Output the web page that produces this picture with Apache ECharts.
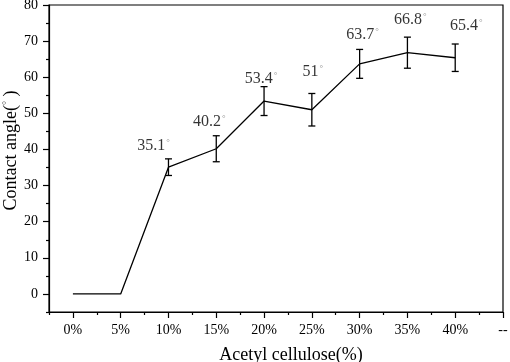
<!DOCTYPE html>
<html>
<head>
<meta charset="utf-8">
<script src="https://cdn.jsdelivr.net/npm/echarts@6/dist/echarts.min.js"></script>
<style>
    html, body { margin: 0; padding: 0; background: #ffffff; }
    #chart { width: 510px; height: 362px; }
</style>
</head>
<body>
<div id="chart"></div>
<script>
// 醋酸纤维素含量 (%)
const contents = [0, 5, 10, 15, 20, 25, 30, 35, 40]
// 接触角 (°)
const angles = [0, 0, 35.1, 40.2, 53.4, 51, 63.7, 66.8, 65.4]
// 误差
const errors = [0, 0, 2.3, 3.6, 4.0, 4.5, 4.0, 4.3, 3.8]
// 标注的点
const labelIdx = [2, 3, 4, 5, 6, 7, 8]
// 标注相对点的偏移 (像素)
const labelOffsets = [[-15, -21], [-7, -27], [-3, -22], [1, -38], [3, -29], [3, -33], [11, -32]]

const xMajor = [0, 5, 10, 15, 20, 25, 30, 35, 40, 45]
const xMinor = [-2.5, 2.5, 7.5, 12.5, 17.5, 22.5, 27.5, 32.5, 37.5, 42.5]
const yMajor = [0, 10, 20, 30, 40, 50, 60, 70, 80]
const yMinor = [-5, 5, 15, 25, 35, 45, 55, 65, 75]

const FONT = 'Liberation Serif'
const axisColor = '#000000'

const lineData = contents.map((c, i) => [c, angles[i]])
const errData = contents.map((c, i) => [c, angles[i] - errors[i], angles[i] + errors[i]])
    .filter((d, i) => errors[i] > 0)
const labelData = labelIdx.map((i, k) => ({
    value: [contents[i], angles[i]],
    label: { offset: labelOffsets[k] }
}))

const baseX = {
    type: 'value',
    min: -2.5,
    max: 45,
    interval: 2.5,
    position: 'bottom',
    splitLine: { show: false },
}
const baseY = {
    type: 'value',
    min: -5,
    max: 80,
    interval: 5,
    position: 'left',
    splitLine: { show: false },
}

const option = {
    backgroundColor: '#ffffff',
    animation: false,
    grid: {
        left: 49,
        right: 7,
        top: 5,
        bottom: 50,
        containLabel: false,
        outerBoundsMode: 'none',
        show: true,
        borderColor: axisColor,
        borderWidth: 1.2,
    },
    xAxis: [
        Object.assign({}, baseX, {
            name: 'Acetyl cellulose(%)',
            nameLocation: 'middle',
            nameGap: 34,
            nameMoveOverlap: false,
            nameTextStyle: { fontFamily: FONT, fontSize: 18, color: '#000', padding: [0, 0, 0, 30] },
            axisLine: { onZero: false, lineStyle: { color: axisColor, width: 1.2 } },
            axisTick: { customValues: xMajor, length: 6, lineStyle: { color: axisColor, width: 1.2 } },
            axisLabel: {
                customValues: xMajor,
                margin: 11,
                fontFamily: FONT,
                fontSize: 14,
                color: '#000',
                formatter: (v) => v === 45 ? '--' : v + '%',
            },
        }),
        Object.assign({}, baseX, {
            axisLine: { show: false, onZero: false },
            axisTick: { customValues: xMinor, length: 3, lineStyle: { color: axisColor, width: 1.2 } },
            axisLabel: { show: false },
        }),
    ],
    yAxis: [
        Object.assign({}, baseY, {
            name: 'Contact angle({d|°} )',
            nameLocation: 'middle',
            nameGap: 29,
            nameMoveOverlap: false,
            nameTextStyle: {
                fontFamily: FONT, fontSize: 18, color: '#000',
                padding: [0, 0, 0, 16],
                rich: { d: { fontFamily: FONT, fontSize: 10, color: '#555', verticalAlign: 'top', padding: [0, 0, 6, 0] } },
            },
            axisLine: { onZero: false, lineStyle: { color: axisColor, width: 1.2 } },
            axisTick: { customValues: yMajor, length: 6, lineStyle: { color: axisColor, width: 1.2 } },
            axisLabel: {
                customValues: yMajor,
                margin: 11,
                fontFamily: FONT,
                fontSize: 14,
                color: '#000',
            },
        }),
        Object.assign({}, baseY, {
            axisLine: { show: false, onZero: false },
            axisTick: { customValues: yMinor, length: 3, lineStyle: { color: axisColor, width: 1.2 } },
            axisLabel: { show: false },
        }),
    ],
    series: [
        {
            type: 'line',
            data: lineData,
            symbol: 'none',
            lineStyle: { color: '#000', width: 1.3 },
            z: 3,
        },
        {
            // 误差棒
            type: 'custom',
            data: errData,
            z: 4,
            renderItem: (params, api) => {
                const x = api.value(0)
                const lo = api.coord([x, api.value(1)])
                const hi = api.coord([x, api.value(2)])
                const cap = 3.5
                const style = { stroke: '#000', lineWidth: 1.3 }
                return {
                    type: 'group',
                    children: [
                        { type: 'line', shape: { x1: lo[0], y1: lo[1], x2: hi[0], y2: hi[1] }, style },
                        { type: 'line', shape: { x1: hi[0] - cap, y1: hi[1], x2: hi[0] + cap, y2: hi[1] }, style },
                        { type: 'line', shape: { x1: lo[0] - cap, y1: lo[1], x2: lo[0] + cap, y2: lo[1] }, style },
                    ]
                }
            },
        },
        {
            // 数值标注
            type: 'scatter',
            data: labelData,
            symbolSize: 0,
            z: 5,
            label: {
                show: true,
                position: 'inside',
                formatter: (p) => p.value[1] + '{d|°}',
                fontFamily: FONT,
                fontSize: 16,
                color: '#000',
                rich: {
                    d: { fontFamily: FONT, fontSize: 9, color: '#777', verticalAlign: 'top', padding: [0, 0, 7, 1] },
                },
            },
        },
    ]
}

const myChart = echarts.init(document.getElementById('chart'))
myChart.setOption(option)
</script>
</body>
</html>
